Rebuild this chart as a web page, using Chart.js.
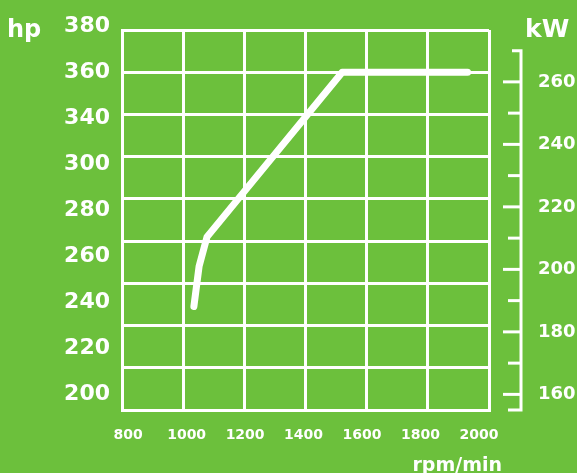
<!DOCTYPE html>
<html>
<head>
<meta charset="utf-8">
<style>
    body { margin: 0; background: #6cc03c; }
    canvas { display: block; }
</style>
</head>
<body>
    <canvas id="powerChart" width="577" height="473"></canvas>
    <script src="https://cdn.jsdelivr.net/npm/chart.js"></script>

    <script>
        // power curve
        const rpm = [1035, 1052, 1078, 1520, 1930]
        const hp = [249, 268, 282, 360, 360]

        // tick labels as printed (note: no 320 on the hp side)
        const hpTicks = ['380', '360', '340', '300', '280', '260', '240', '220', '200']
        const rpmTicks = [800, 1000, 1200, 1400, 1600, 1800, 2000]
        const kwTicks = [160, 180, 200, 220, 240, 260]
        const kwMinorTicks = [170, 190, 210, 230, 250]

        const white = '#ffffff'
        const fontFamily = '"DejaVu Sans", sans-serif'

        // kW ruler and unit names
        const unitsPlugin = {
            id: 'units',
            afterDraw(chart) {
                const ctx = chart.ctx
                const kw = chart.scales.kw
                const axisX = 521
                ctx.save()
                ctx.strokeStyle = white
                ctx.lineWidth = 3
                ctx.lineJoin = 'miter'

                ctx.beginPath()
                ctx.moveTo(512, kw.getPixelForValue(270))
                ctx.lineTo(axisX, kw.getPixelForValue(270))
                ctx.lineTo(axisX, kw.getPixelForValue(155))
                ctx.lineTo(508, kw.getPixelForValue(155))
                ctx.stroke()

                kwTicks.forEach((v) => {
                    const y = kw.getPixelForValue(v)
                    ctx.beginPath()
                    ctx.moveTo(503, y)
                    ctx.lineTo(axisX, y)
                    ctx.stroke()
                })
                kwMinorTicks.forEach((v) => {
                    const y = kw.getPixelForValue(v)
                    ctx.beginPath()
                    ctx.moveTo(508, y)
                    ctx.lineTo(axisX, y)
                    ctx.stroke()
                })

                ctx.fillStyle = white
                ctx.textBaseline = 'alphabetic'
                ctx.textAlign = 'left'
                ctx.font = 'bold 24px ' + fontFamily
                ctx.fillText('hp', 7, 37)
                ctx.font = 'bold 25px ' + fontFamily
                ctx.fillText('kW', 525, 37)
                ctx.font = 'bold 19px ' + fontFamily
                ctx.textAlign = 'right'
                ctx.fillText('rpm/min', 502, 471)
                ctx.restore()
            }
        }

        const gridStyle = { color: white, lineWidth: 3, drawTicks: false }
        const borderStyle = { color: white, width: 3 }
        const labelFont = (size) => ({ family: fontFamily, size: size, weight: 'bold' })

        // keep the plot box where the picture has it
        const fixWidth = (w) => (s) => { s.width = w; s.paddingTop = 0; s.paddingBottom = 0 }
        const fixHeight = (h) => (s) => { s.height = h; s.paddingLeft = 0; s.paddingRight = 0 }

        const canvas = document.getElementById('powerChart').getContext('2d')
        const chart = new Chart(canvas, {
            type: 'line',
            data: {
                datasets: [{
                    label: 'hp',
                    data: rpm.map((x, i) => ({ x: x, y: hp[i] })),
                    xAxisID: 'x',
                    yAxisID: 'y',
                    borderColor: white,
                    borderWidth: 7,
                    borderCapStyle: 'round',
                    borderJoinStyle: 'round',
                    pointRadius: 0,
                    tension: 0,
                    fill: false
                }]
            },
            options: {
                responsive: false,
                animation: false,
                layout: { padding: { top: 30 } },
                plugins: {
                    legend: { display: false },
                    tooltip: { enabled: false }
                },
                scales: {
                    x: {
                        type: 'linear', position: 'bottom', weight: 0,
                        min: 800, max: 2000,
                        ticks: { display: false, stepSize: 200 },
                        grid: gridStyle, border: borderStyle,
                        afterFit: fixHeight(0)
                    },
                    rpmLabels: {
                        type: 'linear', position: 'bottom', weight: 1,
                        min: 779, max: 2034,
                        afterBuildTicks: (s) => { s.ticks = rpmTicks.map(v => ({ value: v })) },
                        ticks: {
                            color: white, font: labelFont(14), padding: 17, autoSkip: false, maxRotation: 0,
                            callback: (v) => String(v)
                        },
                        grid: { display: false, drawTicks: false },
                        border: { display: false },
                        afterFit: fixHeight(63)
                    },
                    y: {
                        type: 'linear', position: 'left', weight: 0,
                        min: 200, max: 380,
                        ticks: { display: false, stepSize: 20 },
                        grid: gridStyle, border: borderStyle,
                        afterFit: fixWidth(0)
                    },
                    hpLabels: {
                        type: 'linear', position: 'left', weight: 1,
                        reverse: true, min: 0.076, max: 8.348,
                        afterBuildTicks: (s) => { s.ticks = hpTicks.map((t, i) => ({ value: i })) },
                        ticks: {
                            color: white, font: labelFont(22), padding: 12, autoSkip: false,
                            callback: (v) => hpTicks[v]
                        },
                        grid: { display: false, drawTicks: false },
                        border: { display: false },
                        afterFit: fixWidth(122)
                    },
                    kw: {
                        type: 'linear', position: 'right',
                        min: 155, max: 276.6,
                        afterBuildTicks: (s) => { s.ticks = kwTicks.map(v => ({ value: v })) },
                        ticks: { color: white, font: labelFont(18), padding: 49, autoSkip: false },
                        grid: { display: false, drawTicks: false },
                        border: { display: false },
                        afterFit: fixWidth(88)
                    }
                }
            },
            plugins: [unitsPlugin]
        })
    </script>
</body>
</html>
